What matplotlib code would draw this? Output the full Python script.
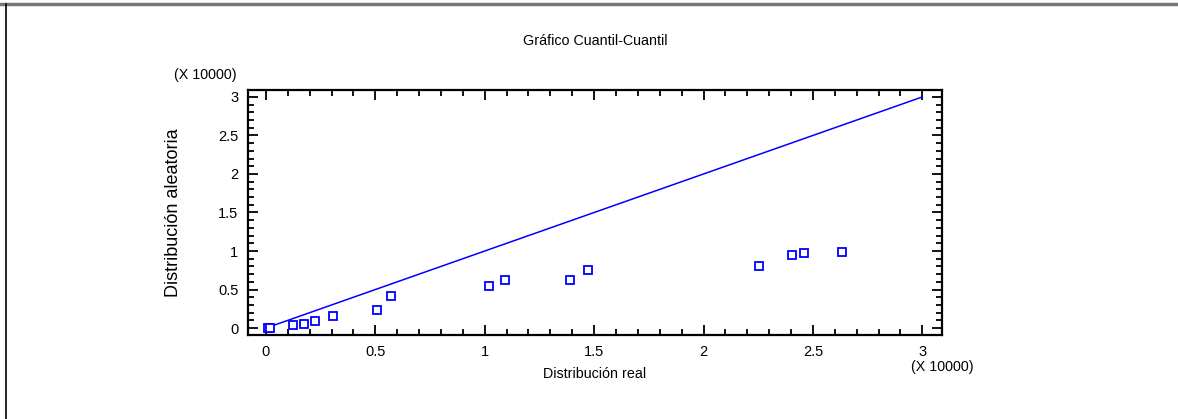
import numpy as np
import matplotlib
matplotlib.use('Agg')
from matplotlib import pyplot as plt
from matplotlib.ticker import MultipleLocator

plt.rcParams['font.family'] = ['Liberation Sans', 'DejaVu Sans']

# quantiles (x 10000)
real_q = [0.01, 0.02, 0.123, 0.175, 0.225, 0.308, 0.508, 0.572, 1.018, 1.094,
          1.39, 1.47, 2.254, 2.405, 2.46, 2.632]
rand_q = [0.0, 0.005, 0.035, 0.05, 0.09, 0.16, 0.23, 0.41, 0.54, 0.63,
          0.63, 0.75, 0.81, 0.95, 0.97, 0.99]
ref_line = [0, 3]

title = 'Gráfico Cuantil-Cuantil'
xlabel = 'Distribución real'
ylabel = 'Distribución aleatoria'
mult = '(X 10000)'

W, H = 1178, 419
fig = plt.figure(figsize=(W/100, H/100), dpi=100)
ax = fig.add_axes([248/W, 1-335/H, (942-248)/W, (335-90)/H])

blue = '#0000ff'
ax.plot(ref_line, ref_line, color=blue, lw=1.1)
ax.plot(real_q, rand_q, ls='none', marker='s', ms=6.3, mfc='white',
        mec=blue, mew=1.3)

ax.set_xlim(-0.082, 3.09)
ax.set_ylim(-0.09, 3.09)
for a in (ax.xaxis, ax.yaxis):
    a.set_major_locator(MultipleLocator(0.5))
    a.set_minor_locator(MultipleLocator(0.1))
ax.xaxis.set_major_formatter(plt.FuncFormatter(lambda v, p: ('%g' % v)))
ax.yaxis.set_major_formatter(plt.FuncFormatter(lambda v, p: ('%g' % v)))
ax.tick_params(which='both', direction='in', top=True, right=True,
               labelsize=10.5, width=1.3, colors='black')
ax.tick_params(which='major', length=7.5, pad=7)
ax.tick_params(which='minor', length=4.5)
for s in ax.spines.values():
    s.set_linewidth(1.6)

ax.set_xlabel(xlabel, fontsize=10.3, labelpad=6)
ax.set_ylabel(ylabel, fontsize=13, labelpad=26)
fig.text(595/W, 1-41/H, title, fontsize=10.3, ha='center', va='center')
fig.text(205/W, 1-75/H, mult, fontsize=10.3, ha='center', va='center')
fig.text(942/W, 1-367/H, mult, fontsize=10.3, ha='center', va='center')

# frame around the figure
fig.add_artist(plt.Line2D([0, 1], [1-4.5/H, 1-4.5/H], color='#777777', lw=2.5,
                          transform=fig.transFigure))
fig.add_artist(plt.Line2D([5.5/W, 5.5/W], [0, 1-4.5/H], color='black', lw=1.2,
                          transform=fig.transFigure))

fig.savefig('out.png', dpi=100)
